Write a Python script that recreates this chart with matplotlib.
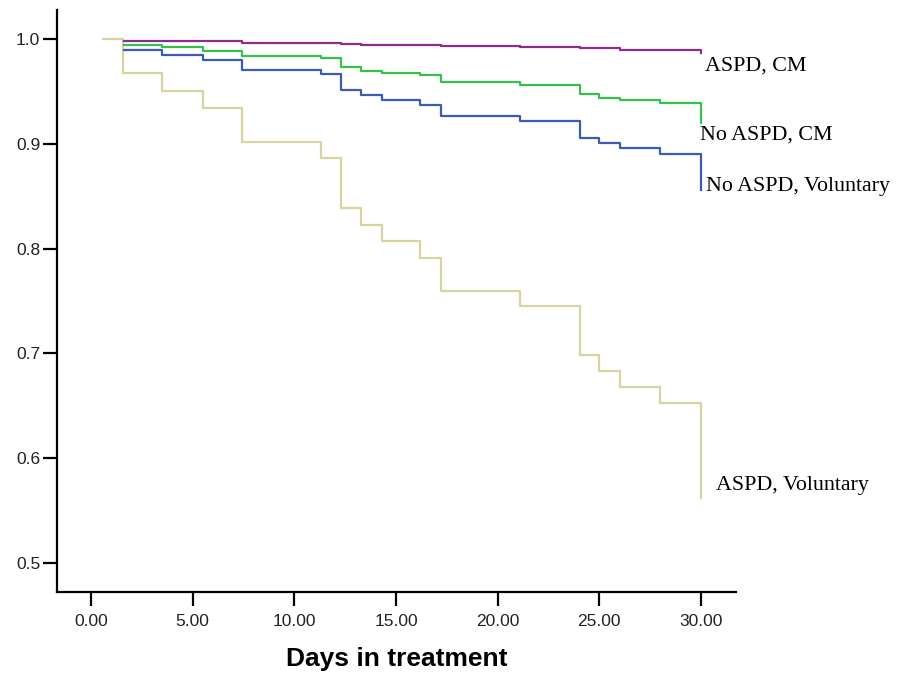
import matplotlib
matplotlib.use("Agg")
import matplotlib.pyplot as plt

# Step times (days) and survival values
days_aspd_vol = [0.6, 1.55, 3.5, 5.5, 7.45, 11.3, 12.3, 13.3, 14.3, 16.2, 17.2, 21.1, 24.05, 25.0, 26.0, 28.0, 30.0]
surv_aspd_vol = [1.0, 0.968, 0.951, 0.934, 0.902, 0.887, 0.839, 0.823, 0.807, 0.791, 0.760, 0.745, 0.698, 0.683, 0.668, 0.653, 0.562]

days_aspd_cm = [1.6, 5.5, 7.45, 12.3, 13.3, 17.2, 21.1, 24.05, 26.0, 30.0]
surv_aspd_cm = [0.9988, 0.998, 0.9965, 0.9952, 0.9946, 0.9937, 0.9927, 0.9914, 0.9901, 0.987]

days_noaspd_cm = [1.6, 3.5, 5.5, 7.45, 11.3, 12.3, 13.3, 14.3, 16.2, 17.2, 21.1, 24.05, 25.0, 26.0, 28.0, 30.0]
surv_noaspd_cm = [0.9946, 0.9924, 0.9889, 0.984, 0.9819, 0.9737, 0.970, 0.968, 0.9657, 0.9597, 0.9568, 0.948, 0.9444, 0.9419, 0.9387, 0.9197]

days_noaspd_vol = [1.6, 3.5, 5.5, 7.45, 11.3, 12.3, 13.3, 14.3, 16.2, 17.2, 21.1, 24.05, 25.0, 26.0, 28.0, 30.0]
surv_noaspd_vol = [0.990, 0.985, 0.9807, 0.971, 0.9664, 0.9514, 0.947, 0.942, 0.937, 0.927, 0.922, 0.906, 0.901, 0.896, 0.890, 0.856]

labels = ["ASPD, CM", "No ASPD, CM", "No ASPD, Voluntary", "ASPD, Voluntary"]
x_ticks = [0, 5, 10, 15, 20, 25, 30]
y_ticks = [0.5, 0.6, 0.7, 0.8, 0.9, 1.0]

c_purple = "#8e2b8e"
c_green = "#35c14a"
c_blue = "#3b5cb6"
c_khaki = "#d8d49e"

fig = plt.figure(figsize=(9.01, 6.79), dpi=100)
ax = fig.add_axes([57/901, 1-592/679, (736-57)/901, (592-10)/679])

lw = 1.6
ax.plot(days_aspd_vol, surv_aspd_vol, drawstyle="steps-post", color=c_khaki, lw=lw)
ax.plot(days_noaspd_vol, surv_noaspd_vol, drawstyle="steps-post", color=c_blue, lw=lw)
ax.plot(days_noaspd_cm, surv_noaspd_cm, drawstyle="steps-post", color=c_green, lw=lw)
ax.plot(days_aspd_cm, surv_aspd_cm, drawstyle="steps-post", color=c_purple, lw=lw)

ax.set_xlim(-1.672, 31.72)
ax.set_ylim(0.4721, 1.028)
ax.set_xticks(x_ticks)
ax.set_xticklabels([f"{v:.2f}" for v in x_ticks])
ax.set_yticks(y_ticks)
ax.set_yticklabels([f"{v:.1f}" for v in y_ticks])

for s in ["top", "right"]:
    ax.spines[s].set_visible(False)
for s in ["left", "bottom"]:
    ax.spines[s].set_linewidth(1.6)
ax.tick_params(axis="both", length=10, width=1.6, labelsize=12.5, colors="black")
ax.tick_params(axis="x", pad=6)
ax.tick_params(axis="y", pad=2)
for lab in ax.get_xticklabels() + ax.get_yticklabels():
    lab.set_fontfamily("Liberation Sans")
    lab.set_color("#222222")

ax.set_xlabel("Days in treatment", fontsize=19, fontweight="bold",
              fontfamily="Liberation Sans", labelpad=13)

# End labels (placed in data coordinates next to curve ends)
serif = dict(fontsize=15.8, fontfamily="Liberation Serif", va="center", ha="left")
ax.text(30.2, 0.974, labels[0], **serif)
ax.text(29.95, 0.909, labels[1], **serif)
ax.text(30.25, 0.859, labels[2], **serif)
ax.text(30.75, 0.574, labels[3], **serif)

fig.savefig("out.png", dpi=100)
